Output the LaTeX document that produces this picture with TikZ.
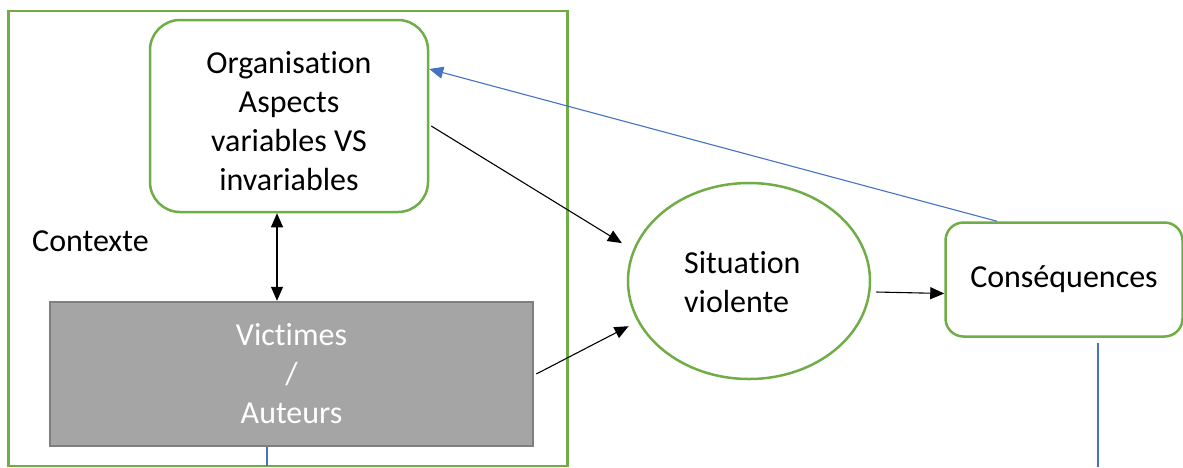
\documentclass[tikz,border=0pt]{standalone}
\usepackage{fontspec}
\setmainfont{Carlito}[Ligatures=NoCommon]
\usetikzlibrary{arrows.meta,shapes.geometric}
\definecolor{grn}{HTML}{70AD47}
\definecolor{blu}{HTML}{4472C4}
\definecolor{gfill}{HTML}{A5A5A5}
\definecolor{gdraw}{HTML}{7F7F7F}
\begin{document}
\begin{tikzpicture}[x=1pt,y=-1pt,
  txt/.style={font=\fontsize{32}{39}\selectfont, align=center, inner sep=0pt},
  gbox/.style={draw=grn, line width=2.5pt},
  blk/.style={draw=black, line width=1.1pt, -{Triangle[length=14pt,width=12pt]}},
  bl/.style={draw=blu, line width=1.1pt}]
\useasboundingbox (0,0) rectangle (1183,467);
\node[gbox, minimum width=559pt, minimum height=455pt, inner sep=0pt] (frame) at (288,238.5) {};
\node[txt, anchor=west] (ctx) at (32,241) {Contexte};
\node[gbox, rounded corners=30pt, minimum width=278pt, minimum height=192pt, txt] (org) at (289,116) {\rule{0pt}{32pt}Organisation\\Aspects\\variables VS\\invariables};
\node[fill=gfill, draw=gdraw, line width=2.5pt, minimum width=483pt, minimum height=144pt, txt, text=white] (vic) at (291.5,374) {Victimes\\/\\Auteurs};
\node[gbox, ellipse, minimum width=242pt, minimum height=196pt, inner sep=0pt] (sit) at (749,281) {};
\node[txt, align=left, anchor=west] (sitt) at (684,282) {Situation\\violente};
\node[gbox, rounded corners=18pt, minimum width=237pt, minimum height=114pt, txt] (cons) at (1064,279.5) {Conséquences};
\coordinate (c1) at (1098,467);
\coordinate (v1) at (267,466);
\draw[draw=black, line width=1.1pt, {Triangle[length=14pt,width=12pt]}-{Triangle[length=14pt,width=12pt]}] ([xshift=-12pt]org.south) -- ([xshift=-14.5pt]vic.north);
\draw[blk, shorten >=13pt] ([shift={(2pt,-10pt)}]org.east) -- (sit.165);
\draw[blk, shorten >=10pt] ([xshift=2pt]vic.east) -- (sit.200);
\draw[blk] ([shift={(5pt,-11pt)}]sit.east) -- ([yshift=-14pt]cons.west);
\draw[bl, -{Triangle[length=14pt,width=12pt]}] ([xshift=-67pt]cons.north) -- ([yshift=47pt]org.east);
\draw[bl] ([shift={(34pt,-5pt)}]cons.south) -- (c1);
\draw[bl] ([xshift=-24.5pt]vic.south) -- (v1);
\end{tikzpicture}
\end{document}
